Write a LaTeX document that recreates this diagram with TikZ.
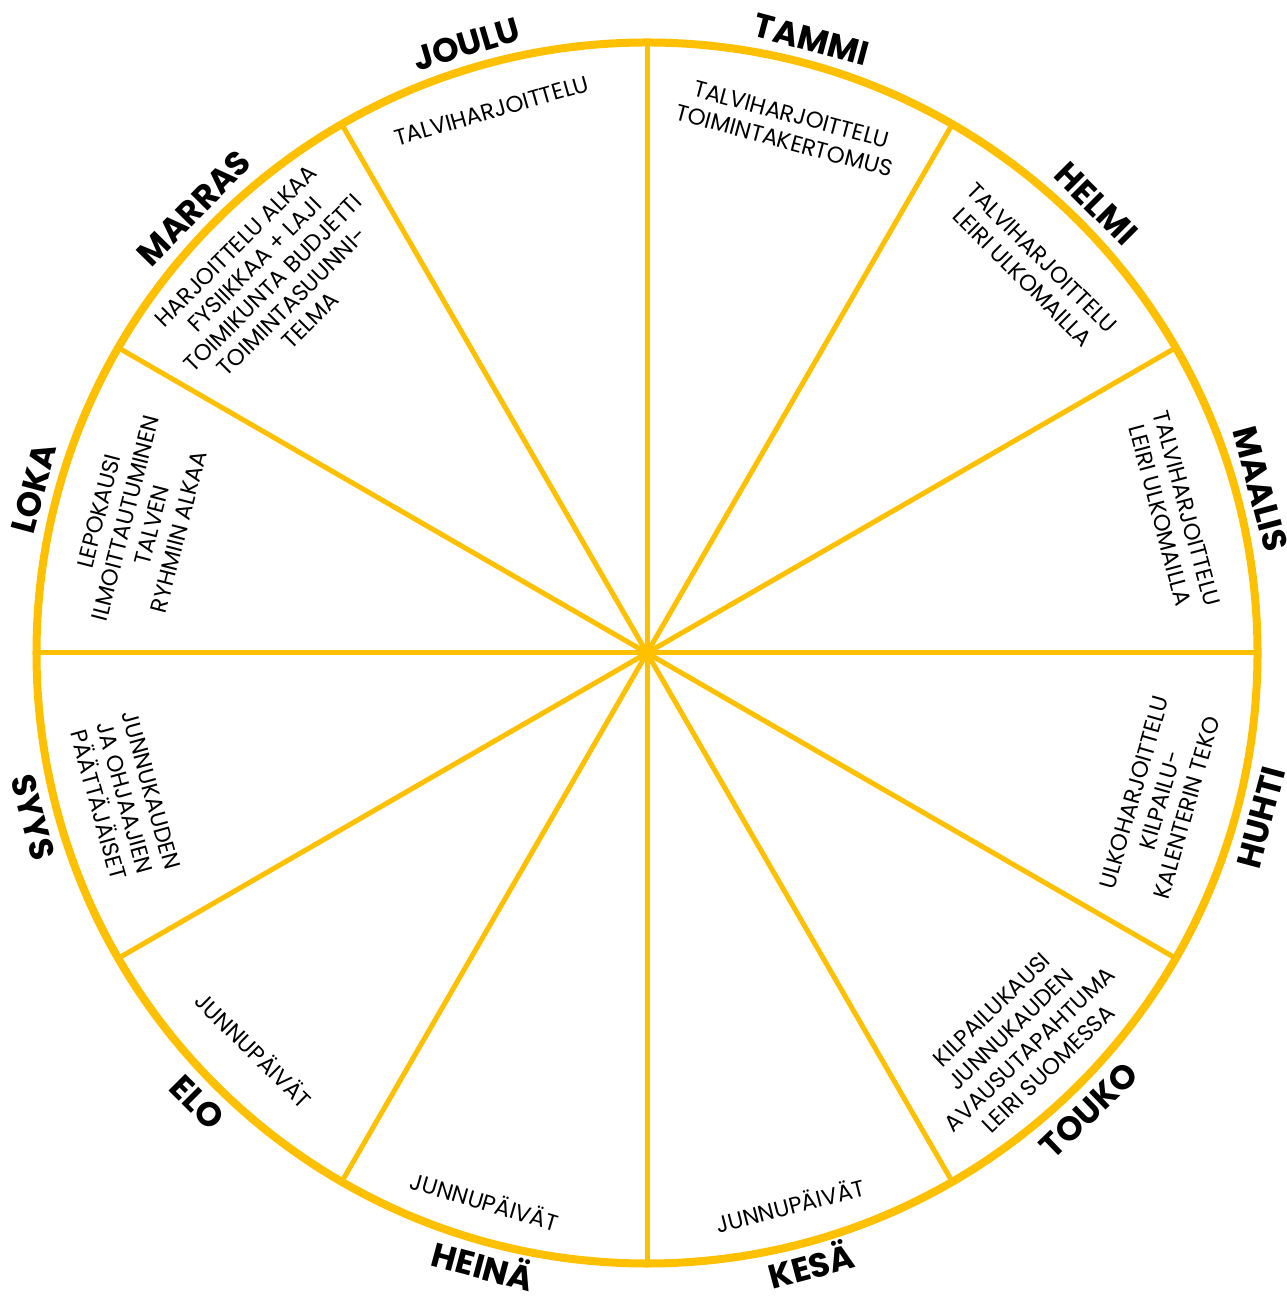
\documentclass[tikz,border=0pt]{standalone}
\usepackage{fontspec}
\setmainfont{Poppins}
\definecolor{wheel}{HTML}{FFC000}

\begin{document}
\begin{tikzpicture}[
  month/.style={font=\bfseries\fontsize{9.6}{11}\selectfont,text height=0.235cm,text depth=0pt,inner sep=0pt},
  task/.style={font=\fontsize{6.5}{7.8}\selectfont,align=center,inner sep=0pt}]
  \useasboundingbox (-6.47,-6.44) rectangle (6.39,6.53);

  % the wheel: spokes and rim
  \foreach \a in {0,30,...,150}
    \draw[wheel,line width=0.05cm] (\a:6.1) -- (\a+180:6.1);
  \draw[wheel,line width=0.08cm] (0,0) circle (6.105);

  % month names, upper half read outward, lower half read inward
  \foreach \a/\lab in {75/TAMMI,45/HELMI,15/MAALIS,106.5/JOULU,135.5/MARRAS,165/LOKA}
    \node[month,rotate=\a-90] (m\a) at (\a:6.35) {\lab};
  \foreach \a/\lab in {-15/HUHTI,-46/TOUKO,-75/KESÄ,255/HEINÄ,225/ELO,195/SYYS}
    \node[month,rotate=\a+90] (m\a) at (\a:6.36) {\lab};

  % what happens in each month
  \foreach \a/\dist/\what in {106/5.64/{TALVIHARJOITTELU},
    75/5.44/{TALVIHARJOITTELU\\TOIMINTAKERTOMUS},
    45/5.45/{TALVIHARJOITTELU\\LEIRI ULKOMAILLA},
    15/5.45/{TALVIHARJOITTELU\\LEIRI ULKOMAILLA},
    165.5/5.25/{LEPOKAUSI\\ILMOITTAUTUMINEN\\TALVEN\\RYHMIIN ALKAA}}
    \node[task,rotate=\a-90] (t\a) at (\a:\dist) {\what};
  \node[task,rotate=45,font=\fontsize{6.5}{7.5}\selectfont] (t135) at (135.3:5.26)
    {HARJOITTELU ALKAA\\FYSIIKKAA + LAJI\\TOIMIKUNTA BUDJETTI\\TOIMINTASUUNNI-\\TELMA};
  \foreach \a/\dist/\what in {-16/5.34/{ULKOHARJOITTELU\\KILPAILU-\\KALENTERIN TEKO},
    -46/5.37/{KILPAILUKAUSI\\JUNNUKAUDEN\\AVAUSUTAPAHTUMA\\LEIRI SUOMESSA},
    -75.5/5.70/{JUNNUPÄIVÄT},
    253.5/5.71/{JUNNUPÄIVÄT},
    225.3/5.58/{JUNNUPÄIVÄT},
    195.5/5.42/{JUNNUKAUDEN\\JA OHJAAJIEN\\PÄÄTTÄJÄISET}}
    \node[task,rotate=\a+90] (t\a) at (\a:\dist) {\what};
\end{tikzpicture}
\end{document}
